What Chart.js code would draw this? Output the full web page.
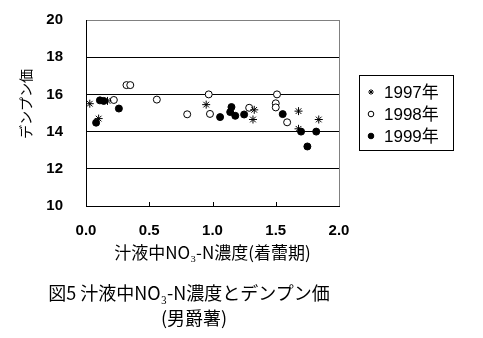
<!DOCTYPE html>
<html><head><meta charset="utf-8">
<style>
html,body{margin:0;padding:0;background:#fff;}
#wrap{position:relative;width:483px;height:338px;overflow:hidden;}
canvas{position:absolute;left:0;top:0;}
.cap{position:absolute;font-family:"Noto Sans CJK JP";font-size:18px;line-height:18px;color:#000;white-space:nowrap;transform:translateX(-50%);}
</style>
<script src="https://cdn.jsdelivr.net/npm/chart.js@4/dist/chart.umd.min.js"></script>
</head><body>
<div id="wrap">
<canvas id="c" width="483" height="338"></canvas>
<div class="cap" id="cap1" style="left:189px;top:283px"></div>
<div class="cap" id="cap2" style="left:194px;top:308px"></div>
</div>
<script>
// ---- data ----
const seriesLabels = ['1997年', '1998年', '1999年'];
const x1997 = [0.03, 0.17, 0.10, 0.95, 1.33, 1.32, 1.68, 1.84, 1.68];
const y1997 = [15.5, 15.65, 14.7, 15.45, 15.17, 14.65, 15.1, 14.65, 14.15];
const x1998 = [0.22, 0.32, 0.35, 0.56, 0.80, 0.97, 0.98, 1.29, 1.51, 1.50, 1.50, 1.59];
const y1998 = [15.7, 16.5, 16.5, 15.72, 14.93, 16.0, 14.95, 15.28, 16.0, 15.52, 15.3, 14.5];
const x1999 = [0.11, 0.14, 0.08, 0.26, 1.06, 1.15, 1.14, 1.18, 1.25, 1.555, 1.70, 1.82, 1.75];
const y1999 = [15.68, 15.65, 14.48, 15.24, 14.78, 15.32, 15.05, 14.85, 14.92, 14.94, 14.0, 14.0, 13.2];
const xTickValues = [0, 0.5, 1.0, 1.5, 2.0];
const yTickValues = [10, 12, 14, 16, 18, 20];
const xTitle = '汁液中NO₃-N濃度(着蕾期)';
const yTitle = 'デンプン価';
const caption1 = '図5 汁液中NO₃-N濃度とデンプン価';
const caption2 = '(男爵薯)';

document.getElementById('cap1').textContent = caption1;
document.getElementById('cap2').textContent = caption2;

const toPts = (xs, ys) => xs.map((v, i) => ({x: v, y: ys[i]}));
const styles = [
  {pointStyle: 'star', radius: 4, bg: '#000'},
  {pointStyle: 'circle', radius: 3.5, bg: '#fff'},
  {pointStyle: 'circle', radius: 3.5, bg: '#000'}
];
const seriesData = [toPts(x1997, y1997), toPts(x1998, y1998), toPts(x1999, y1999)];

const decor = {
  id: 'decor',
  beforeDatasetsDraw(chart) {
    const {ctx, chartArea: a, scales: {x}} = chart;
    ctx.save();
    ctx.lineWidth = 1;
    ctx.strokeStyle = '#808080';
    ctx.beginPath();
    ctx.moveTo(a.right + 0.5, a.top);
    ctx.lineTo(a.right + 0.5, a.bottom);
    ctx.stroke();
    ctx.strokeStyle = '#000';
    ctx.beginPath();
    xTickValues.slice(1, -1).forEach(v => {
      const px = Math.round(x.getPixelForValue(v)) + 0.5;
      ctx.moveTo(px, a.bottom);
      ctx.lineTo(px, a.bottom - 4);
    });
    ctx.stroke();
    ctx.restore();
  },
  afterDraw(chart) {
    const {ctx} = chart;
    ctx.save();
    // y title
    ctx.translate(26, 104);
    ctx.rotate(-Math.PI / 2);
    ctx.font = '14px "Noto Sans CJK JP"';
    ctx.fillStyle = '#000';
    ctx.textAlign = 'center';
    ctx.textBaseline = 'middle';
    ctx.fillText(yTitle, 0, 0);
    ctx.restore();
    // legend
    ctx.save();
    ctx.strokeStyle = '#000';
    ctx.lineWidth = 1;
    ctx.strokeRect(359.5, 75.5, 94, 75);
    const rows = [92, 114, 136];
    chart.data.datasets.forEach((ds, i) => {
      ctx.fillStyle = ds.backgroundColor;
      ctx.strokeStyle = '#000';
      Chart.helpers.drawPoint(ctx, {pointStyle: ds.pointStyle, radius: 2.8, borderWidth: 1}, 371, rows[i]);
      ctx.fillStyle = '#000';
      ctx.font = '17px "Liberation Sans", "Noto Sans CJK JP"';
      ctx.textAlign = 'left';
      ctx.textBaseline = 'middle';
      ctx.fillText(ds.label, 384, rows[i] + 1);
    });
    ctx.restore();
  }
};

new Chart(document.getElementById('c'), {
  type: 'scatter',
  data: {
    datasets: seriesLabels.map((lab, i) => ({
      label: lab,
      data: seriesData[i],
      pointStyle: styles[i].pointStyle,
      pointRadius: styles[i].radius,
      backgroundColor: styles[i].bg,
      borderColor: '#000',
      borderWidth: 1
    }))
  },
  options: {
    responsive: false,
    animation: false,
    devicePixelRatio: 1,
    layout: {padding: {left: 0, top: 20, right: 144, bottom: 0}},
    plugins: {legend: {display: false}, tooltip: {enabled: false}},
    scales: {
      x: {
        type: 'linear', min: 0, max: 2,
        afterFit: s => { s.height = 132; s.paddingLeft = 0; s.paddingRight = 0; },
        afterBuildTicks: s => { s.ticks = xTickValues.map(v => ({value: v})); },
        grid: {display: false, drawTicks: false},
        border: {display: true, color: '#000', width: 1},
        ticks: {
          padding: 16, color: '#000',
          font: {family: '"Liberation Sans"', size: 15, weight: 'bold'},
          callback: v => Number(v).toFixed(1)
        },
        title: {
          display: true, text: xTitle, color: '#000',
          font: {family: '"Noto Sans CJK JP"', size: 17},
          padding: {top: 0, bottom: 75}
        }
      },
      y: {
        type: 'linear', min: 10, max: 20,
        afterFit: s => { s.width = 86; s.paddingTop = 0; s.paddingBottom = 0; },
        afterBuildTicks: s => { s.ticks = yTickValues.map(v => ({value: v})); },
        grid: {
          drawTicks: false,
          color: c => (c.tick && c.tick.value === 20) ? '#808080' : '#000',
          lineWidth: 1
        },
        border: {display: true, color: '#000', width: 1},
        ticks: {
          padding: 23, color: '#000',
          font: {family: '"Liberation Sans"', size: 15, weight: 'bold'},
          callback: v => String(v)
        }
      }
    }
  },
  plugins: [decor]
});
</script>
</body></html>
